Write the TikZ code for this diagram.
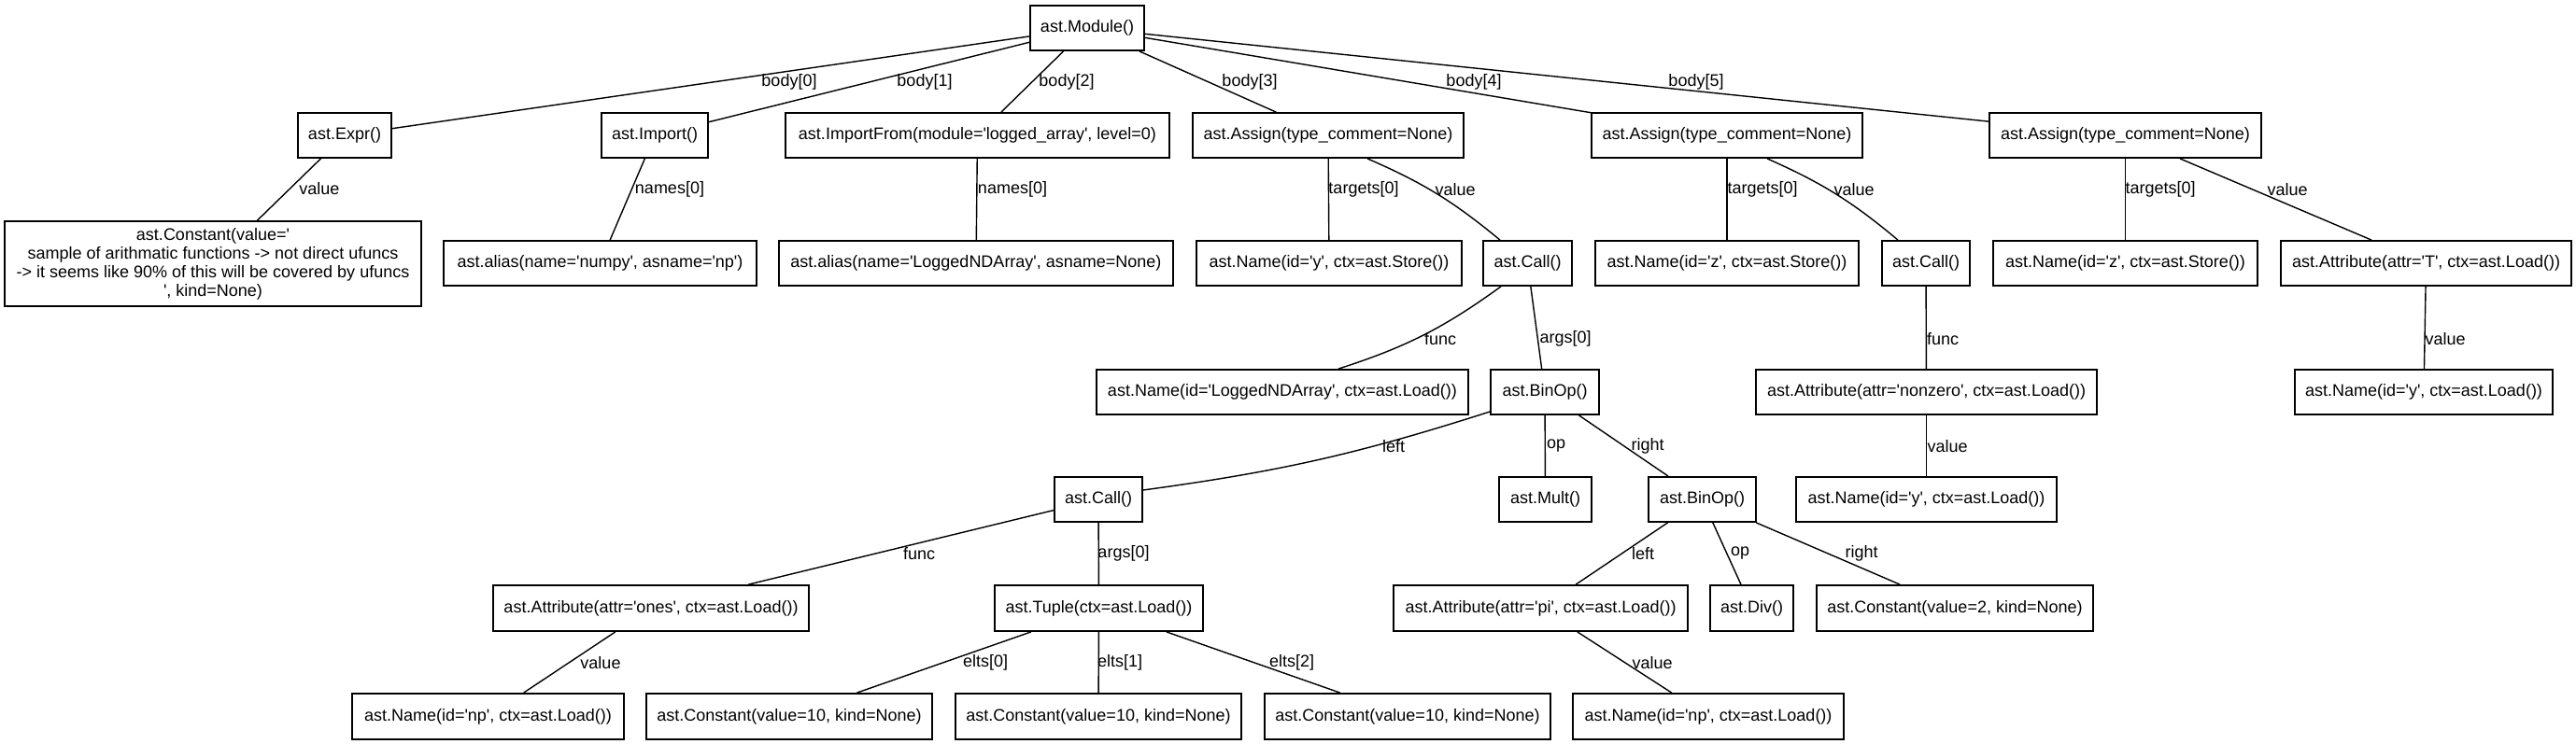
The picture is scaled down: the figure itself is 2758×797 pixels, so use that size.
\documentclass[tikz,border=0pt]{standalone}
\usepackage{fontspec}
\newfontfamily\gv{Liberation Sans}
\begin{document}
\begin{tikzpicture}[x=1pt,y=-1pt,
  box/.style={draw, line width=1.8pt, minimum height=48pt, inner sep=0pt, font=\gv\fontsize{18}{20}\selectfont},
  edge/.style={line width=1.4pt},
  lbl/.style={inner sep=0pt, font=\gv\fontsize{18}{20}\selectfont}]
\useasboundingbox (0,0) rectangle (2758,797);
% row 0
\node[box, minimum width=122] (mod) at (1164,30) {ast.Module()};
% row 1
\node[box, minimum width=100] (expr) at (369,145) {ast.Expr()};
\node[box, minimum width=114] (imp) at (701,145) {ast.Import()};
\node[box, minimum width=411] (impf) at (1046.5,145) {ast.ImportFrom(module='logged\_array', level=0)};
\node[box, minimum width=290] (as1) at (1422,145) {ast.Assign(type\_comment=None)};
\node[box, minimum width=290] (as2) at (1849,145) {ast.Assign(type\_comment=None)};
\node[box, minimum width=291] (as3) at (2275.5,145) {ast.Assign(type\_comment=None)};
% row 2
\node[box, minimum width=446, minimum height=91, align=center] (const) at (228,282.5) {ast.Constant(value='\\sample of arithmatic functions -> not direct ufuncs\\-> it seems like 90\% of this will be covered by ufuncs\\', kind=None)};
\node[box, minimum width=335] (alnp) at (642.5,282) {ast.alias(name='numpy', asname='np')};
\node[box, minimum width=422] (allog) at (1045,282) {ast.alias(name='LoggedNDArray', asname=None)};
\node[box, minimum width=284] (namey) at (1423,282) {ast.Name(id='y', ctx=ast.Store())};
\node[box, minimum width=95] (call1) at (1635.5,282) {ast.Call()};
\node[box, minimum width=282] (namez) at (1849,282) {ast.Name(id='z', ctx=ast.Store())};
\node[box, minimum width=94] (call2) at (2062,282) {ast.Call()};
\node[box, minimum width=283] (namez3) at (2275.5,282) {ast.Name(id='z', ctx=ast.Store())};
\node[box, minimum width=311] (attT) at (2597.5,282) {ast.Attribute(attr='T', ctx=ast.Load())};
% row 3
\node[box, minimum width=398] (namelog) at (1373,420) {ast.Name(id='LoggedNDArray', ctx=ast.Load())};
\node[box, minimum width=116] (binop) at (1654,420) {ast.BinOp()};
\node[box, minimum width=365] (attnz) at (2062.5,420) {ast.Attribute(attr='nonzero', ctx=ast.Load())};
\node[box, minimum width=276] (nameyL) at (2595,420) {ast.Name(id='y', ctx=ast.Load())};
% row 4
\node[box, minimum width=94] (call3) at (1176,535) {ast.Call()};
\node[box, minimum width=99] (mult) at (1654.5,535) {ast.Mult()};
\node[box, minimum width=115] (binop2) at (1822.5,535) {ast.BinOp()};
\node[box, minimum width=279] (nameyL2) at (2062.5,535) {ast.Name(id='y', ctx=ast.Load())};
% row 5
\node[box, minimum width=338, minimum height=49] (attones) at (697,651.5) {ast.Attribute(attr='ones', ctx=ast.Load())};
\node[box, minimum width=223, minimum height=49] (tuple) at (1176.5,651.5) {ast.Tuple(ctx=ast.Load())};
\node[box, minimum width=315, minimum height=49] (attpi) at (1649.5,651.5) {ast.Attribute(attr='pi', ctx=ast.Load())};
\node[box, minimum width=89, minimum height=49] (div) at (1875.5,651.5) {ast.Div()};
\node[box, minimum width=296, minimum height=49] (const2) at (2093,651.5) {ast.Constant(value=2, kind=None)};
% row 6
\node[box, minimum width=291, minimum height=49] (namenp) at (522.5,767.5) {ast.Name(id='np', ctx=ast.Load())};
\node[box, minimum width=306, minimum height=49] (c10a) at (845,767.5) {ast.Constant(value=10, kind=None)};
\node[box, minimum width=306, minimum height=49] (c10b) at (1176,767.5) {ast.Constant(value=10, kind=None)};
\node[box, minimum width=306, minimum height=49] (c10c) at (1507,767.5) {ast.Constant(value=10, kind=None)};
\node[box, minimum width=290, minimum height=49] (namenp2) at (1829,767.5) {ast.Name(id='np', ctx=ast.Load())};
% edges
\draw[edge] (mod) -- (expr) node[lbl, at={(845,88)}] {body[0]};
\draw[edge] (mod) -- (imp) node[lbl, at={(990,88)}] {body[1]};
\draw[edge] (mod) -- (impf) node[lbl, at={(1142,88)}] {body[2]};
\draw[edge] (mod) -- (as1) node[lbl, at={(1338,88)}] {body[3]};
\draw[edge] (mod) -- (as2) node[lbl, at={(1578,88)}] {body[4]};
\draw[edge] (mod) -- (as3) node[lbl, at={(1816,88)}] {body[5]};
\draw[edge] (expr) -- (const) node[lbl, at={(342,202)}] {value};
\draw[edge] (imp) -- (alnp) node[lbl, at={(717,203)}] {names[0]};
\draw[edge] (impf) -- (allog) node[lbl, at={(1084,203)}] {names[0]};
\draw[edge] (as1) -- (namey) node[lbl, at={(1460,203)}] {targets[0]};
\draw[edge] ([xshift=42pt]as1.south) to[bend left=8] ([xshift=-29.5pt]call1.north) node[lbl, at={(1558,203)}] {value};
\draw[edge] (as2) -- (namez) node[lbl, at={(1887,203)}] {targets[0]};
\draw[edge] ([xshift=43pt]as2.south) to[bend left=8] ([xshift=-30pt]call2.north) node[lbl, at={(1985,203)}] {value};
\draw[edge] (as3) -- (namez3) node[lbl, at={(2313,203)}] {targets[0]};
\draw[edge] (as3) -- (attT) node[lbl, at={(2449,203)}] {value};
\draw[edge] ([xshift=-28.5pt]call1.south) to[bend left=9] ([xshift=60pt]namelog.north) node[lbl, at={(1542,363)}] {func};
\draw[edge] (call1) -- (binop) node[lbl, at={(1676,363)}] {args[0]};
\draw[edge] (call2) -- (attnz) node[lbl, at={(2080,363)}] {func};
\draw[edge] (attT) -- (nameyL) node[lbl, at={(2618,363)}] {value};
\draw[edge] ([yshift=-21pt]binop.west) to[bend left=5] ([yshift=10pt]call3.east) node[lbl, at={(1492,478)}] {left};
\draw[edge] (binop) -- (mult) node[lbl, at={(1666,478)}] {op};
\draw[edge] (binop) -- (binop2) node[lbl, at={(1764,478)}] {right};
\draw[edge] (attnz) -- (nameyL2) node[lbl, at={(2085,478)}] {value};
\draw[edge] (call3) -- (attones) node[lbl, at={(984,593)}] {func};
\draw[edge] (call3) -- (tuple) node[lbl, at={(1203,593)}] {args[0]};
\draw[edge] (binop2) -- (attpi) node[lbl, at={(1759,593)}] {left};
\draw[edge] (binop2) -- (div) node[lbl, at={(1863,593)}] {op};
\draw[edge] (binop2) -- (const2) node[lbl, at={(1993,593)}] {right};
\draw[edge] (attones) -- (namenp) node[lbl, at={(643,710)}] {value};
\draw[edge] (tuple) -- (c10a) node[lbl, at={(1055,710)}] {elts[0]};
\draw[edge] (tuple) -- (c10b) node[lbl, at={(1199,710)}] {elts[1]};
\draw[edge] (tuple) -- (c10c) node[lbl, at={(1383,710)}] {elts[2]};
\draw[edge] (attpi) -- (namenp2) node[lbl, at={(1769,710)}] {value};
\end{tikzpicture}
\end{document}
